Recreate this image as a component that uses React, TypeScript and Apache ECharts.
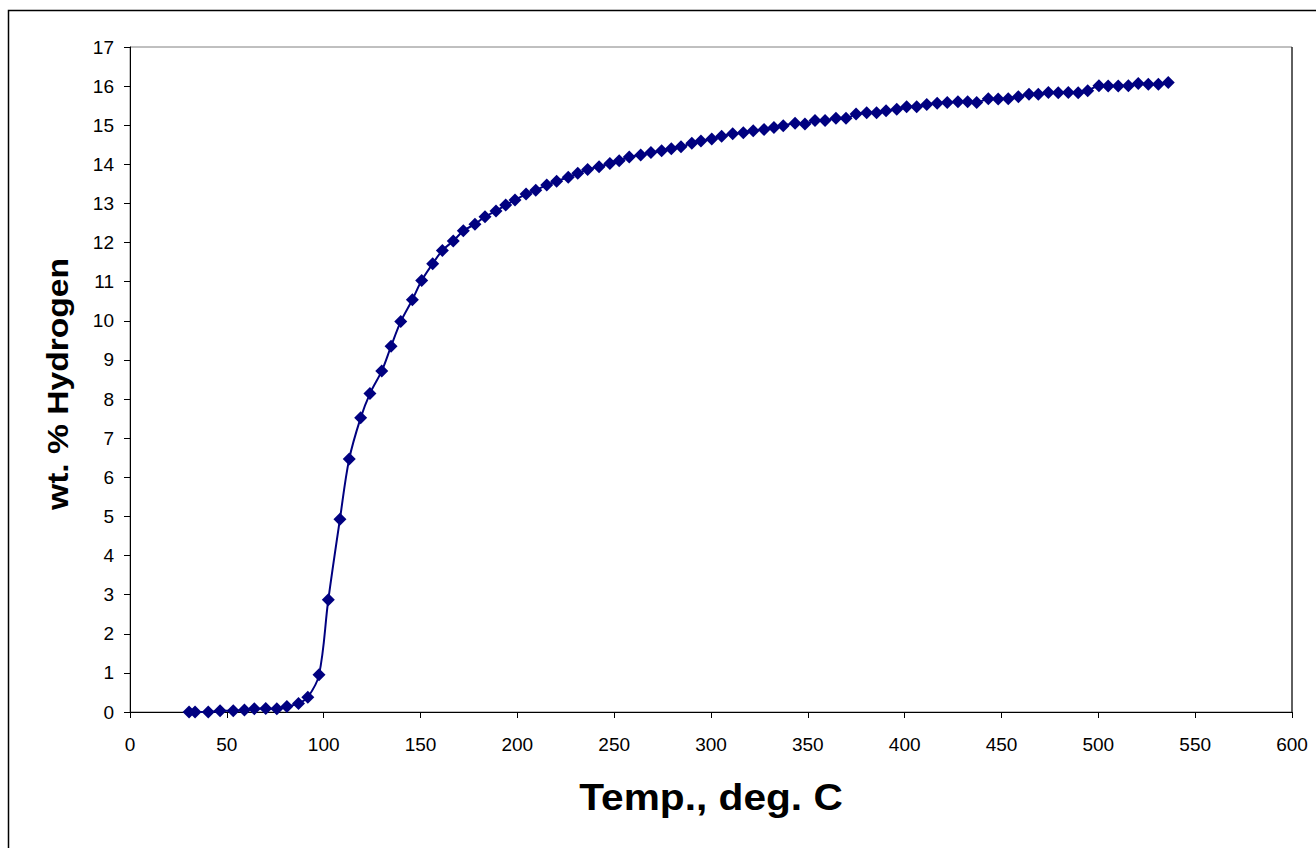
import React, { useEffect, useRef } from "react";
import * as echarts from "echarts";

const temps: number[] = [
  30.5, 33.6, 40.4, 46.5, 53.3, 59.1, 64.2, 70.1, 75.8, 81.0,
  87.0, 91.8, 97.6, 102.4, 108.4, 113.2, 119.1, 123.9, 130.0, 134.8,
  139.8, 145.8, 150.6, 156.3, 161.3, 166.9, 172.1, 178.1, 183.3, 189.0,
  194.0, 198.8, 204.5, 209.5, 215.2, 220.3, 226.3, 231.2, 236.3, 242.2,
  247.8, 252.6, 257.8, 263.7, 269.0, 274.5, 279.5, 284.5, 290.1, 294.8,
  300.4, 305.5, 311.2, 316.7, 321.8, 327.4, 332.5, 337.3, 343.4, 348.5,
  353.7, 358.9, 364.5, 369.7, 374.9, 380.4, 385.5, 390.4, 395.9, 401.0,
  406.2, 411.4, 416.8, 422.0, 427.5, 432.5, 437.2, 443.2, 448.3, 453.5,
  458.7, 464.2, 469.0, 474.2, 479.3, 484.5, 489.6, 494.5, 500.3, 505.1,
  510.3, 515.5, 520.6, 525.8, 531.0, 536.1,
];

const hydrogen: number[] = [
  0, 0, 0, 0.03, 0.03, 0.05, 0.08, 0.09, 0.08, 0.14,
  0.22, 0.38, 0.95, 2.87, 4.93, 6.47, 7.52, 8.14, 8.72, 9.35,
  9.98, 10.54, 11.03, 11.46, 11.8, 12.04, 12.3, 12.47, 12.66, 12.81,
  12.96, 13.09, 13.24, 13.34, 13.47, 13.57, 13.67, 13.77, 13.87, 13.94,
  14.02, 14.09, 14.19, 14.24, 14.3, 14.35, 14.4, 14.45, 14.54, 14.6,
  14.65, 14.72, 14.78, 14.81, 14.86, 14.89, 14.94, 14.99, 15.05, 15.03,
  15.12, 15.12, 15.18, 15.18, 15.29, 15.32, 15.32, 15.37, 15.41, 15.47,
  15.47, 15.53, 15.56, 15.58, 15.6, 15.6, 15.58, 15.68, 15.67, 15.68,
  15.73, 15.79, 15.79, 15.84, 15.83, 15.84, 15.83, 15.88, 16.01, 16.0,
  16.0, 16.01, 16.07, 16.05, 16.05, 16.09,
];

const xTitle = "Temp., deg. C";
const yTitle = "wt. % Hydrogen";

const FONT = "'Liberation Sans', Arial, sans-serif";

export default function App() {
  const ref = useRef<HTMLDivElement>(null);

  useEffect(() => {
    if (!ref.current) return;
    const chart = echarts.init(ref.current, null, { renderer: "svg" });
    const data = temps.map((t, i) => [t, hydrogen[i]]);
    chart.setOption({
      animation: false,
      backgroundColor: "#ffffff",
      grid: {
        left: 130,
        right: 24,
        top: 47,
        bottom: 136,
        show: true,
        borderColor: "#808080",
        borderWidth: 1,
        backgroundColor: "transparent",
      },
      xAxis: {
        type: "value",
        min: 0,
        max: 600,
        interval: 50,
        axisLine: { show: true, onZero: false, lineStyle: { color: "#000", width: 1 } },
        axisTick: { show: true, inside: false, length: 6, lineStyle: { color: "#000" } },
        splitLine: { show: false },
        axisLabel: { color: "#000", fontSize: 19, fontFamily: FONT, margin: 23 },
      },
      yAxis: {
        type: "value",
        min: 0,
        max: 17,
        interval: 1,
        axisLine: { show: true, onZero: false, lineStyle: { color: "#000", width: 1 } },
        axisTick: { show: true, inside: false, length: 6, lineStyle: { color: "#000" } },
        splitLine: { show: false },
        axisLabel: { color: "#000", fontSize: 19, fontFamily: FONT, margin: 16 },
      },
      graphic: [
        {
          type: "rect",
          shape: { x: 8.5, y: 10.5, width: 1400, height: 900 },
          style: { fill: "none", stroke: "#000", lineWidth: 1.5 },
          silent: true,
          z: 0,
        },
        {
          type: "line",
          shape: { x1: 1292, y1: 47, x2: 1292, y2: 712 },
          style: { stroke: "#000", lineWidth: 1 },
          silent: true,
        },
        {
          type: "text",
          x: 711,
          y: 797,
          scaleX: 1.13,
          style: {
            text: xTitle,
            font: `bold 36px ${FONT}`,
            fill: "#000",
            align: "center",
            verticalAlign: "middle",
          },
        },
        {
          type: "text",
          x: 58,
          y: 384,
          rotation: Math.PI / 2,
          scaleX: 1.12,
          style: {
            text: yTitle,
            font: `bold 30px ${FONT}`,
            fill: "#000",
            align: "center",
            verticalAlign: "middle",
          },
        },
      ],
      series: [
        {
          type: "line",
          data,
          smooth: 0.35,
          symbol: "diamond",
          symbolSize: 13,
          showSymbol: true,
          lineStyle: { color: "#000080", width: 2 },
          itemStyle: { color: "#000080" },
        },
      ],
    });
    return () => chart.dispose();
  }, []);

  return (
    <div
      ref={ref}
      style={{ position: "fixed", left: 0, top: 0, width: 1316, height: 848, background: "#fff" }}
    />
  );
}
